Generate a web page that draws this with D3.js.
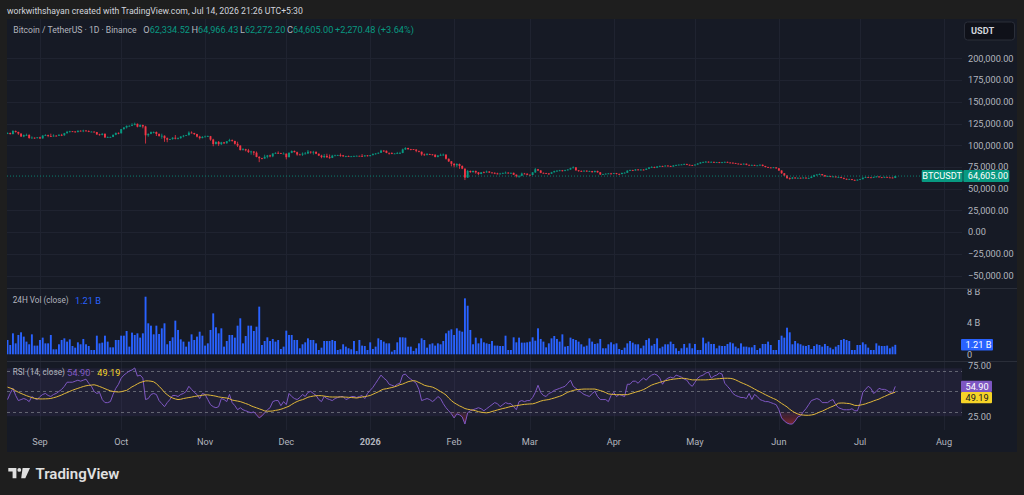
<!DOCTYPE html>
<html><head><meta charset="utf-8">
<script src="https://cdn.jsdelivr.net/npm/d3@7"></script>
<style>html,body{margin:0;padding:0;background:#1e1e1e;overflow:hidden}svg{display:block}text{font-family:Roboto,"DejaVu Sans",sans-serif}</style>
</head><body><svg id="c" width="1024" height="495"></svg>
<script>
// ---------- DATA ----------
const firstDay = "2025-08-20";
const firstOpenK = 113.6;
const closeK = [
114.2,112.9,116.5,115.3,113.5,110.1,111.8,112.0,108.4,108.8,
108.6,109.2,107.9,111.2,111.7,110.7,110.2,111.1,111.0,112.0,
111.5,113.9,115.5,116.1,115.9,115.3,116.8,116.4,117.0,116.4,
115.6,115.7,115.2,112.6,112.0,113.3,109.0,109.6,109.6,112.1,
114.3,113.8,118.6,120.5,122.3,122.4,123.5,124.7,121.4,123.3,
121.7,111.5,113.2,115.2,115.3,113.1,110.8,111.0,108.2,106.5,
107.2,108.7,107.6,108.3,110.1,111.0,111.7,114.6,114.1,112.9,
110.0,108.3,109.6,110.1,110.5,106.6,101.5,103.9,101.3,103.4,
102.3,104.7,106.0,105.0,101.7,99.7,94.5,95.5,94.2,92.2,
92.9,91.5,86.6,85.1,84.7,86.8,88.3,87.3,90.5,91.3,
90.9,90.4,90.4,86.3,91.3,93.5,92.1,89.4,89.3,90.4,
90.6,92.7,92.0,92.5,90.3,88.2,86.4,87.8,86.2,85.5,
88.1,88.4,88.6,88.5,87.4,87.6,87.2,87.3,87.8,87.9,
87.8,87.2,88.4,87.5,88.7,89.9,90.6,91.4,93.9,93.7,
91.3,91.0,90.5,90.6,91.0,91.2,95.3,96.9,95.6,95.5,
95.1,93.6,92.6,89.5,89.3,89.9,89.5,89.2,86.6,88.3,
89.0,89.3,84.5,81.5,78.7,77.0,78.5,76.2,73.1,62.8,
70.5,69.2,70.5,68.8,67.0,68.9,68.8,69.8,68.7,68.3,
67.6,67.0,67.4,68.2,68.5,67.8,68.3,66.2,64.4,64.9,
67.5,67.3,66.0,65.8,68.8,72.4,71.0,68.3,68.0,67.6,
67.3,68.9,70.3,70.8,71.2,70.6,71.4,72.1,73.8,74.6,
71.2,70.5,70.0,70.8,69.9,70.3,69.1,70.5,68.9,66.5,
66.8,67.3,67.6,67.2,67.9,67.0,66.9,68.2,68.4,70.8,
71.5,71.0,72.2,71.5,72.0,71.7,73.0,74.5,75.1,74.2,
75.6,76.1,75.9,76.6,76.2,75.5,76.8,77.3,77.7,77.9,
78.5,77.6,77.2,76.9,77.8,79.0,80.3,80.6,81.1,80.8,
80.9,80.2,80.6,79.8,80.5,80.9,80.1,80.0,79.5,78.9,
78.6,78.3,78.8,77.5,77.2,77.4,76.8,76.9,77.6,76.2,
75.0,74.4,74.3,74.6,73.5,71.0,67.8,65.2,62.4,61.6,
62.9,62.0,62.6,62.3,62.8,62.1,62.4,63.9,65.7,66.3,
66.8,65.6,64.2,64.6,63.7,64.1,63.3,63.5,62.5,61.4,
60.8,61.1,60.2,59.6,60.4,61.0,62.7,63.4,63.1,62.9,
63.5,64.1,63.2,62.8,63.6,63.0,62.9,62.33452,64.605];
const highK = [
114.8,114.6,117.4,117.0,115.7,113.7,112.4,113.4,112.6,110.3,
109.0,109.5,109.9,111.7,112.7,112.3,113.4,112.6,111.6,112.9,
113.2,114.3,116.6,116.7,116.2,116.2,117.0,117.1,117.9,117.4,
117.2,116.0,116.0,115.4,113.3,113.9,113.5,110.1,110.0,112.3,
114.6,114.8,118.8,121.0,122.9,123.0,125.4,126.1,125.1,124.2,
123.8,122.5,113.7,115.9,115.9,115.9,113.6,113.4,111.4,109.0,
107.5,109.4,111.8,109.1,110.5,111.9,112.0,116.1,116.0,114.4,
113.2,111.0,110.6,111.2,111.2,110.8,107.5,104.5,104.9,104.0,
103.9,105.0,107.5,106.7,105.3,104.1,100.0,96.8,96.0,95.9,
93.8,93.2,92.9,87.5,85.6,89.2,88.9,89.2,91.0,91.9,
93.0,91.4,91.9,90.6,92.0,94.1,94.0,92.7,90.3,91.8,
92.3,94.6,93.0,93.6,92.9,90.5,89.1,90.0,90.3,89.4,
89.0,89.2,89.1,90.6,88.9,88.0,88.2,87.8,88.0,88.3,
88.0,89.9,88.6,88.8,88.8,90.8,91.0,91.8,94.8,94.4,
94.0,91.6,92.0,91.0,92.4,92.5,96.2,97.9,97.2,95.9,
95.7,95.5,93.7,92.8,90.5,91.1,90.3,89.8,89.5,88.7,
90.4,90.5,89.5,84.8,81.9,79.4,79.3,79.0,76.9,73.4,
71.7,71.0,71.0,70.9,69.3,69.2,69.9,70.9,70.2,69.0,
68.9,68.4,68.3,68.6,69.8,69.0,68.6,68.6,66.4,65.3,
68.6,68.2,67.8,66.6,69.2,74.0,72.8,71.4,68.7,68.3,
68.1,69.4,70.8,71.3,71.7,71.6,71.9,72.6,74.2,75.8,
74.9,71.6,71.1,71.1,71.2,70.8,70.6,71.0,70.8,69.3,
67.2,67.7,68.0,68.3,68.2,68.2,67.6,68.6,69.0,71.3,
72.0,71.8,72.7,72.5,72.6,72.4,73.5,75.0,75.9,75.4,
76.0,76.7,76.5,77.0,77.1,76.5,77.2,77.8,78.0,78.3,
79.0,78.8,77.9,77.5,78.1,79.5,80.8,81.3,81.9,81.4,
81.5,81.2,80.9,80.9,80.9,81.3,81.2,80.5,80.2,79.8,
79.2,78.9,79.1,79.0,77.8,77.8,77.6,77.2,78.0,77.9,
76.4,75.3,74.9,75.0,74.8,73.8,71.3,68.1,65.5,63.0,
63.4,63.2,63.0,62.9,63.3,63.0,62.9,64.3,66.2,66.9,
67.5,67.0,65.9,65.1,64.9,64.5,64.4,63.9,63.8,62.8,
61.7,61.5,61.3,60.5,60.8,61.4,63.1,63.9,63.7,63.4,
63.9,64.5,64.3,63.5,63.9,63.8,63.3,63.1,64.96643];
const lowK = [
112.9,112.4,112.6,114.6,112.0,109.7,109.3,110.9,107.5,107.9,
107.4,107.8,107.3,107.7,110.8,109.3,109.8,110.0,110.2,110.7,
110.6,110.9,113.5,114.8,115.3,114.5,114.7,116.0,115.1,116.0,
115.1,115.2,114.9,111.9,111.2,111.5,108.7,108.6,109.1,109.4,
111.6,112.7,113.6,118.0,119.3,121.8,122.1,123.0,120.6,120.9,
119.5,102.0,109.8,112.7,113.7,110.7,109.9,107.5,104.0,103.5,
106.3,106.4,106.8,106.8,107.4,109.2,110.9,111.2,113.8,111.9,
109.1,106.7,108.0,109.5,109.6,105.3,98.9,100.8,99.3,100.3,
101.4,101.9,104.3,104.2,100.8,98.0,94.0,94.1,93.0,91.2,
89.2,88.6,86.2,80.6,83.9,84.6,85.0,86.2,86.3,90.0,
90.2,90.2,90.2,83.8,86.2,90.9,91.8,88.0,88.9,87.8,
89.6,89.9,90.4,89.3,89.8,87.6,85.1,85.3,85.6,84.5,
85.3,87.9,88.0,86.8,86.5,86.3,86.9,86.8,86.9,87.6,
87.5,86.7,87.1,87.1,87.4,88.4,89.3,90.0,91.2,92.5,
90.9,89.3,89.8,90.2,89.9,90.3,90.9,94.6,94.8,94.2,
94.9,92.0,91.9,88.0,87.9,88.3,88.9,88.5,86.1,86.1,
87.8,88.0,83.6,80.8,75.8,74.6,74.8,72.9,72.5,60.0,
62.6,68.3,68.5,67.3,65.8,66.6,68.1,68.5,68.1,67.8,
66.8,66.5,66.9,67.2,67.6,67.5,67.4,65.8,63.0,62.6,
64.4,66.8,65.6,65.4,65.6,68.2,70.3,67.9,67.5,67.2,
66.0,67.1,68.7,69.5,70.2,69.8,70.1,71.0,71.9,73.4,
70.8,69.6,69.4,69.8,69.4,69.5,68.5,68.9,68.5,65.8,
66.2,66.6,67.0,66.5,66.9,66.5,66.4,66.7,67.9,68.2,
70.5,70.3,70.8,71.0,71.2,71.2,71.5,72.8,74.2,73.7,
74.0,75.3,75.2,75.6,75.8,75.0,75.3,76.5,77.0,77.3,
77.6,77.2,76.8,76.4,76.7,77.6,78.8,80.0,80.3,80.2,
80.3,79.8,79.9,79.4,79.5,80.2,79.8,79.6,79.0,78.5,
78.1,77.9,78.0,77.1,76.8,76.9,76.4,76.5,76.7,75.8,
74.6,74.0,73.8,74.0,73.0,70.5,67.2,64.5,61.2,60.4,
61.1,61.5,61.7,61.9,62.0,61.7,61.8,62.2,63.6,65.3,
66.0,65.2,63.8,63.9,63.3,63.4,62.9,63.0,62.1,61.0,
60.3,60.5,59.8,59.1,59.4,60.1,60.8,62.4,62.8,62.5,
62.6,63.2,62.9,62.4,62.6,62.7,62.5,62.0,62.2722];
const volumeB = [
1.83,1.19,2.68,1.40,2.47,2.81,2.26,1.62,1.28,2.55,
1.11,1.11,1.83,2.13,1.40,1.40,2.47,0.64,0.64,1.28,
1.83,2.04,1.62,1.91,1.06,0.85,1.53,1.28,1.96,1.28,
1.06,0.55,0.55,2.38,1.40,1.49,2.38,1.62,0.89,0.89,
1.83,1.83,2.38,2.38,2.98,0.98,2.77,2.47,2.68,2.13,
2.68,7.36,3.96,3.66,2.55,3.66,2.60,3.32,3.96,1.28,
1.70,2.17,4.30,3.11,1.91,1.62,0.98,1.62,2.55,1.83,
2.26,2.89,2.38,1.11,1.40,3.11,5.23,3.45,2.68,3.32,
0.98,1.70,2.47,2.47,2.13,3.66,4.60,1.40,2.34,3.66,
3.66,2.98,3.53,6.09,1.19,1.70,2.17,1.70,1.96,1.62,
1.83,0.68,0.98,3.02,2.47,2.47,1.83,1.83,0.77,1.28,
1.53,2.04,1.83,1.83,1.40,0.55,0.85,1.70,1.70,1.70,
1.83,1.70,0.55,0.64,1.28,0.98,0.77,0.64,1.70,0.43,
1.83,1.11,1.06,0.55,1.53,0.68,0.98,2.04,1.83,1.62,
1.40,1.40,0.34,0.55,1.53,2.17,2.17,2.13,0.98,0.98,
0.43,0.77,1.40,2.04,1.83,0.85,1.28,1.40,1.11,1.40,
1.28,1.70,2.68,3.02,3.19,2.47,3.32,3.02,2.89,7.15,
6.21,3.11,1.28,2.13,1.40,2.04,1.53,1.40,1.32,1.70,
1.11,1.11,1.06,1.06,2.38,0.55,0.55,2.17,1.53,2.13,
1.49,1.49,1.53,1.62,2.17,1.74,3.32,1.96,1.62,0.89,
1.40,2.04,2.34,1.96,1.62,2.55,0.98,1.06,2.13,1.96,
1.83,1.62,1.28,0.98,1.11,2.04,1.62,1.32,1.40,1.96,
0.77,0.77,1.28,1.53,1.28,1.40,0.68,0.55,0.85,1.40,
1.70,1.49,1.28,1.28,0.77,1.11,1.83,2.04,1.11,1.32,
2.04,0.77,0.98,1.28,1.28,1.62,1.32,0.77,0.43,0.77,
1.32,0.85,1.40,0.77,1.32,0.55,0.55,2.13,1.40,1.62,
1.32,1.32,0.77,1.11,1.06,1.06,1.32,1.53,1.40,0.98,
0.77,1.40,0.98,0.98,0.89,0.89,1.19,0.55,0.77,1.32,
1.32,1.62,1.19,0.55,0.55,1.83,2.38,2.13,3.40,2.81,
1.28,1.70,1.40,1.28,1.11,1.06,1.19,0.68,1.06,1.28,
1.19,0.98,1.32,1.06,0.85,0.64,0.98,1.19,1.83,1.96,
1.83,1.70,0.55,0.55,1.19,1.19,1.53,1.28,0.85,0.55,
0.55,1.40,1.11,1.06,1.06,1.11,0.77,0.98,1.21];
const rsiValues = [
42,48,53,46,41,42,43,42,40,45,
43,42,45,47,48,46,45,47,48,50,
52,55,59,59,59,60,61,60,61,62,
58,55,50,48,49,42,39,39,40,47,
53,57,63,66,68,70,71,73,65,66,
63,42,43,47,48,47,41,38,35,39,
42,46,46,45,47,48,50,55,52,49,
47,43,48,47,42,37,35,34,35,43,
42,40,47,39,36,32,34,32,31,30,
29,30,27,24,26,29,32,34,40,41,
41,36,40,37,48,45,43,42,44,47,
45,49,50,48,46,42,40,45,43,42,
41,43,44,45,45,42,43,45,45,44,
45,46,43,48,51,54,58,62,66,63,
61,57,56,55,57,58,66,67,64,62,
60,58,52,41,42,43,42,40,42,45,
43,38,34,31,28,24,28,27,25,18,
29,31,32,33,34,33,31,33,35,37,
39,38,35,37,39,38,38,35,32,40,
41,40,41,41,44,49,56,49,46,45,
48,49,51,52,53,54,55,58,61,55,
53,51,49,47,46,45,48,50,45,42,
42,42,40,46,49,45,47,46,45,57,
57,60,60,58,61,63,61,64,66,67,
66,63,57,61,63,64,63,66,65,64,
62,61,57,55,59,63,65,66,68,69,
63,65,66,68,67,58,55,52,48,46,
45,44,44,43,48,42,47,45,42,41,
40,40,39,38,37,32,24,21,19,18,
18,21,25,26,30,33,37,41,42,43,
42,39,39,39,41,42,37,34,33,32,
32,32,33,31,31,38,49,52,55,53,
48,50,53,52,52,51,49,48,54.9];
const rsiMAValues = [
54.2,53.3,52.3,50.6,49.2,48.0,46.9,45.8,44.9,43.9,
43.2,42.8,42.6,42.6,42.7,42.8,43.1,43.8,44.5,45.5,
46.5,47.8,48.8,50.0,51.1,52.1,53.0,53.9,54.8,55.5,
55.9,56.2,56.5,55.8,54.8,53.8,52.6,51.6,50.6,49.9,
49.6,49.4,49.7,50.4,51.0,52.7,54.5,55.8,57.4,58.7,
59.5,60.3,60.3,60.0,59.4,57.6,55.0,52.3,49.0,46.8,
44.8,43.5,42.6,42.0,42.3,43.0,43.5,44.0,44.4,45.0,
45.4,45.8,46.2,46.6,46.6,46.2,45.8,45.3,44.6,44.2,
43.8,43.5,42.8,41.5,41.0,40.5,40.0,39.1,38.1,37.2,
35.8,34.8,33.9,32.9,32.0,30.9,30.6,30.6,30.8,31.4,
31.8,32.5,33.4,34.4,35.5,37.2,38.8,40.1,41.2,41.9,
43.0,44.3,44.9,45.4,45.8,45.9,45.8,45.4,45.0,44.6,
44.5,44.5,44.5,44.5,44.5,44.4,44.2,44.0,43.8,43.5,
44.0,44.5,44.9,45.4,46.0,47.2,48.4,49.6,51.2,52.2,
52.6,53.2,53.8,54.5,55.4,56.6,57.2,58.4,59.5,60.1,
60.6,60.0,58.7,57.5,56.0,55.3,54.8,54.2,53.0,51.5,
49.8,48.3,46.5,43.5,41.0,38.9,37.3,35.8,34.6,33.2,
32.5,32.0,31.6,31.0,30.1,29.6,29.2,29.0,29.4,30.3,
31.0,31.8,32.5,33.2,33.8,34.5,35.2,35.6,36.0,36.4,
36.9,37.3,37.5,37.7,37.8,38.5,39.5,40.5,41.2,41.6,
42.0,42.8,43.5,44.4,45.2,46.2,47.8,49.2,50.1,50.9,
51.6,51.9,52.1,52.3,52.3,52.3,52.3,52.3,51.6,50.8,
50.0,48.8,47.6,47.2,47.0,46.8,46.8,46.8,46.8,46.8,
47.6,48.4,49.2,50.0,50.8,51.8,53.2,54.8,56.2,57.2,
58.0,58.9,59.7,60.4,61.0,61.6,62.0,62.3,62.6,62.9,
62.8,62.4,61.8,61.3,61.3,61.3,61.3,61.3,61.3,61.5,
61.8,62.0,62.3,62.5,62.7,62.9,62.9,62.8,62.3,61.3,
60.0,58.7,57.6,56.5,55.2,53.8,52.3,50.9,49.6,48.2,
46.8,45.5,44.2,43.0,41.9,40.0,38.2,36.5,34.8,32.5,
30.6,29.0,27.8,27.1,26.8,26.6,26.6,26.9,27.4,28.5,
29.7,30.6,31.9,33.2,34.4,35.5,36.8,38.4,38.6,38.6,
38.3,38.1,37.3,36.3,36.2,36.5,37.1,37.8,38.8,39.6,
40.7,41.6,42.5,43.9,45.0,46.2,47.4,48.4,49.19];

const priceTicks = [200000,175000,150000,125000,100000,75000,50000,25000,0,-25000,-50000];
const volTicks = [8,4,0];
const volTickLabels = ["8 B","4 B","0"];
const rsiTicks = [75,25];
const rsiLevels = [70,50,30];
const monthTicks = ["2025-09-01","2025-10-01","2025-11-01","2025-12-01","2026-01-01","2026-02-01","2026-03-01","2026-04-01","2026-05-01","2026-06-01","2026-07-01","2026-08-01"];
const monthLabels = ["Sep","Oct","Nov","Dec","2026","Feb","Mar","Apr","May","Jun","Jul","Aug"];
const lastOpen = 62334.52, lastHigh = 64966.43, lastLow = 62272.20, lastClose = 64605.00;
const lastChange = 2270.48, lastChangePct = 3.64;
const lastVolB = 1.21;
const lastRsi = 54.90, lastRsiMA = 49.19;

// ---------- LAYOUT ----------
const L = 7, R = 1017, T = 19, B = 452, AX = 962;
const mainTop = 19, mainBot = 288, volTop = 289, volBot = 361, rsiTop = 361, rsiBot = 430;
const UP = "#089981", DN = "#f23645", TXT = "#b2b5be", GRID = "#1f2330";
const svg = d3.select("#c");
svg.append("rect").attr("width",1024).attr("height",495).attr("fill","#1e1e1e");
svg.append("rect").attr("x",L).attr("y",T).attr("width",R-L).attr("height",B-T).attr("fill","#161a25");

const parse = d3.utcParse("%Y-%m-%d");
const day0 = parse(firstDay);
const bars = closeK.map((c,i)=>({
  date: d3.utcDay.offset(day0,i),
  o: (i===0?firstOpenK:closeK[i-1])*1000, c: c*1000, h: highK[i]*1000, l: lowK[i]*1000,
  v: volumeB[i], r: rsiValues[i], m: rsiMAValues[i]
}));

const x = d3.scaleUtc().domain([parse("2025-09-01"),parse("2026-08-01")]).range([40,944]);
const y = d3.scaleLinear().domain([0,200000]).range([232.2,58.4]);
const yv = d3.scaleLinear().domain([0,8]).range([354.3,291.7]);
const yr = d3.scaleLinear().domain([30,70]).range([411.8,371]);

const defs = svg.append("defs");
[["clipMain",mainTop,mainBot],["clipVol",volTop,volBot],["clipRsi",rsiTop,rsiBot]].forEach(([id,a,b])=>{
  defs.append("clipPath").attr("id",id).append("rect").attr("x",L).attr("y",a).attr("width",AX-L).attr("height",b-a);
});
defs.append("clipPath").attr("id","clipVolAx").append("rect").attr("x",AX).attr("y",volTop).attr("width",R-AX).attr("height",volBot-volTop);
defs.append("clipPath").attr("id","clipOS").append("rect").attr("x",L).attr("y",yr(30)).attr("width",AX-L).attr("height",rsiBot-yr(30));
defs.append("clipPath").attr("id","clipOB").append("rect").attr("x",L).attr("y",rsiTop).attr("width",AX-L).attr("height",yr(70)-rsiTop);
const gOS = defs.append("linearGradient").attr("id","gOS").attr("gradientUnits","userSpaceOnUse").attr("x1",0).attr("x2",0).attr("y1",yr(30)).attr("y2",yr(15));
gOS.append("stop").attr("offset",0).attr("stop-color","#f23645").attr("stop-opacity",0.05);
gOS.append("stop").attr("offset",1).attr("stop-color","#f23645").attr("stop-opacity",0.55);
const gOB = defs.append("linearGradient").attr("id","gOB").attr("gradientUnits","userSpaceOnUse").attr("x1",0).attr("x2",0).attr("y1",yr(70)).attr("y2",yr(85));
gOB.append("stop").attr("offset",0).attr("stop-color","#089981").attr("stop-opacity",0.05);
gOB.append("stop").attr("offset",1).attr("stop-color","#089981").attr("stop-opacity",0.55);

// ---------- GRID ----------
const grid = svg.append("g");
monthTicks.forEach(t=>{
  const xx = Math.round(x(parse(t)))+0.5;
  grid.append("line").attr("x1",xx).attr("x2",xx).attr("y1",T).attr("y2",rsiBot).attr("stroke",GRID);
});
priceTicks.forEach(p=>{
  const yy = Math.round(y(p))+0.5;
  grid.append("line").attr("x1",L).attr("x2",AX).attr("y1",yy).attr("y2",yy).attr("stroke",GRID);
});
[mainBot+0.5, volBot+0.5].forEach(yy=>{
  svg.append("line").attr("x1",L).attr("x2",R).attr("y1",yy).attr("y2",yy).attr("stroke","#2a2e39");
});

// ---------- MAIN: candles ----------
const cw = 1.9;
const gC = svg.append("g").attr("clip-path","url(#clipMain)");
gC.selectAll("line.w").data(bars).join("line")
  .attr("x1",d=>x(d.date)).attr("x2",d=>x(d.date))
  .attr("y1",d=>y(d.h)).attr("y2",d=>y(d.l))
  .attr("stroke",d=>d.c>=d.o?UP:DN).attr("stroke-width",0.8);
gC.selectAll("rect.b").data(bars).join("rect")
  .attr("x",d=>x(d.date)-cw/2).attr("width",cw)
  .attr("y",d=>y(Math.max(d.o,d.c)))
  .attr("height",d=>Math.max(0.8, Math.abs(y(d.o)-y(d.c))))
  .attr("fill",d=>d.c>=d.o?UP:DN);
const yLast = y(lastClose);
svg.append("line").attr("x1",L).attr("x2",921).attr("y1",yLast).attr("y2",yLast)
  .attr("stroke",UP).attr("stroke-dasharray","1,2").attr("opacity",0.8);

// ---------- VOLUME ----------
const gV = svg.append("g").attr("clip-path","url(#clipVol)");
gV.selectAll("rect").data(bars).join("rect")
  .attr("x",d=>x(d.date)-cw/2).attr("width",cw)
  .attr("y",d=>yv(d.v)).attr("height",d=>yv(0)-yv(d.v))
  .attr("fill","#2962ff");

// ---------- RSI ----------
const gR = svg.append("g").attr("clip-path","url(#clipRsi)");
gR.append("rect").attr("x",L).attr("width",AX-L).attr("y",yr(72.6)).attr("height",yr(25.6)-yr(72.6))
  .attr("fill","#7e57c2").attr("opacity",0.1);
rsiLevels.forEach(v=>{
  gR.append("line").attr("x1",L).attr("x2",AX).attr("y1",Math.round(yr(v))+0.5).attr("y2",Math.round(yr(v))+0.5)
    .attr("stroke","#787b86").attr("stroke-dasharray","3,3").attr("opacity",0.75);
});
gR.append("path").datum(bars).attr("clip-path","url(#clipOS)")
  .attr("d",d3.area().x(d=>x(d.date)).y0(yr(30)).y1(d=>yr(d.r))).attr("fill","url(#gOS)");
gR.append("path").datum(bars).attr("clip-path","url(#clipOB)")
  .attr("d",d3.area().x(d=>x(d.date)).y0(yr(70)).y1(d=>yr(d.r))).attr("fill","url(#gOB)");
gR.append("path").datum(bars).attr("fill","none").attr("stroke","#7e57c2").attr("stroke-width",1)
  .attr("d",d3.line().x(d=>x(d.date)).y(d=>yr(d.r)));
gR.append("path").datum(bars).attr("fill","none").attr("stroke","#e0b73a").attr("stroke-width",1)
  .attr("d",d3.line().x(d=>x(d.date)).y(d=>yr(d.m)));

// ---------- AXES ----------
const FS = 9.2;
const fmt2 = d3.format(",.2f");
const ax = svg.append("g").attr("font-size",FS).attr("fill",TXT);
priceTicks.forEach(p=>{
  ax.append("text").attr("x",968).attr("y",y(p)).attr("dy","0.35em").text(fmt2(p));
});
const axV = svg.append("g").attr("clip-path","url(#clipVolAx)").attr("font-size",FS).attr("fill",TXT);
volTicks.forEach((v,i)=>{
  axV.append("text").attr("x",967).attr("y",yv(v)).attr("dy","0.35em").text(volTickLabels[i]);
});
rsiTicks.forEach(v=>{
  ax.append("text").attr("x",968).attr("y",yr(v)).attr("dy","0.35em").text(fmt2(v));
});
monthTicks.forEach((t,i)=>{
  svg.append("text").attr("x",x(parse(t))).attr("y",442).attr("dy","0.35em").attr("text-anchor","middle")
    .attr("font-size",FS).attr("fill",TXT).attr("font-weight",monthLabels[i]==="2026"?"bold":"normal")
    .text(monthLabels[i]);
});

svg.append("rect").attr("x",964.5).attr("y",22).attr("width",50).attr("height",18).attr("rx",3)
  .attr("fill","#0f1119").attr("stroke","#2a2e39");
svg.append("text").attr("x",971).attr("y",31).attr("dy","0.35em").attr("font-size",FS).attr("font-weight","bold")
  .attr("fill","#d1d4dc").text("USDT");

function badge(x0,yc,w,h,bg,fg,txt,anchorMid){
  svg.append("rect").attr("x",x0).attr("y",yc-h/2).attr("width",w).attr("height",h).attr("fill",bg).attr("rx",1);
  svg.append("text").attr("x",anchorMid?x0+w/2:x0+4.5).attr("y",yc).attr("dy","0.35em")
    .attr("text-anchor",anchorMid?"middle":"start").attr("font-size",FS).attr("fill",fg).text(txt);
}
badge(921.7,yLast,41,12,UP,"#ffffff","BTCUSDT",true);
badge(963.3,yLast,46,12,UP,"#ffffff",fmt2(lastClose),false);
badge(961,yv(lastVolB),32,11.5,"#2962ff","#ffffff",d3.format(".2f")(lastVolB)+" B",false);
const yR1 = yr(lastRsi);
badge(961,yR1,31,11.3,"#7e57c2","#ffffff",fmt2(lastRsi),false);
badge(961,Math.max(yr(lastRsiMA),yR1+11.3),31,11.3,"#f5d327","#131722",fmt2(lastRsiMA),false);

// ---------- LEGENDS ----------
svg.append("text").attr("x",7).attr("y",11).attr("dy","0.35em").attr("font-size",8.7).attr("fill","#d1d4dc")
  .text("workwithshayan created with TradingView.com, Jul 14, 2026 21:26 UTC+5:30");
const lg = svg.append("g").attr("font-size",FS);
lg.append("text").attr("x",13.3).attr("y",30).attr("dy","0.35em").attr("font-size",8.6).attr("fill",TXT).text("Bitcoin / TetherUS · 1D · Binance");
[["O",lastOpen,143.3],["H",lastHigh,191.5],["L",lastLow,240],["C",lastClose,287]].forEach(([k,v,xx])=>{
  const t = lg.append("text").attr("x",xx).attr("y",30).attr("dy","0.35em");
  t.append("tspan").attr("fill",TXT).text(k);
  t.append("tspan").attr("fill",UP).text(fmt2(v));
});
lg.append("text").attr("x",335).attr("y",30).attr("dy","0.35em").attr("fill",UP)
  .text("+"+fmt2(lastChange)+" (+"+d3.format(".2f")(lastChangePct)+"%)");
lg.append("text").attr("x",12.7).attr("y",300.5).attr("dy","0.35em").attr("font-size",8.2).attr("fill",TXT).text("24H Vol (close)");
lg.append("text").attr("x",75).attr("y",300.5).attr("dy","0.35em").attr("fill","#2962ff").text(d3.format(".2f")(lastVolB)+" B");
lg.append("text").attr("x",12.7).attr("y",372.3).attr("dy","0.35em").attr("font-size",8.2).attr("fill",TXT).text("RSI (14, close)");
lg.append("text").attr("x",67.3).attr("y",372.3).attr("dy","0.35em").attr("fill","#7e57c2").text(fmt2(lastRsi));
lg.append("text").attr("x",97.3).attr("y",372.3).attr("dy","0.35em").attr("fill","#f5d327").text(fmt2(lastRsiMA));

// ---------- LOGO ----------
const logo = svg.append("g").attr("fill","#e0e0e0");
logo.append("path").attr("d","M8.3,468 H16.4 V478.2 H12.6 V471.6 H8.3 Z");
logo.append("circle").attr("cx",19.3).attr("cy",469.9).attr("r",1.9);
logo.append("path").attr("d","M22.6,468 H30 L25.3,478.2 H21.2 Z");
svg.append("text").attr("x",35.5).attr("y",478.5).attr("font-size",15).attr("font-weight",600)
  .attr("fill","#e0e0e0").text("TradingView");
</script></body></html>
